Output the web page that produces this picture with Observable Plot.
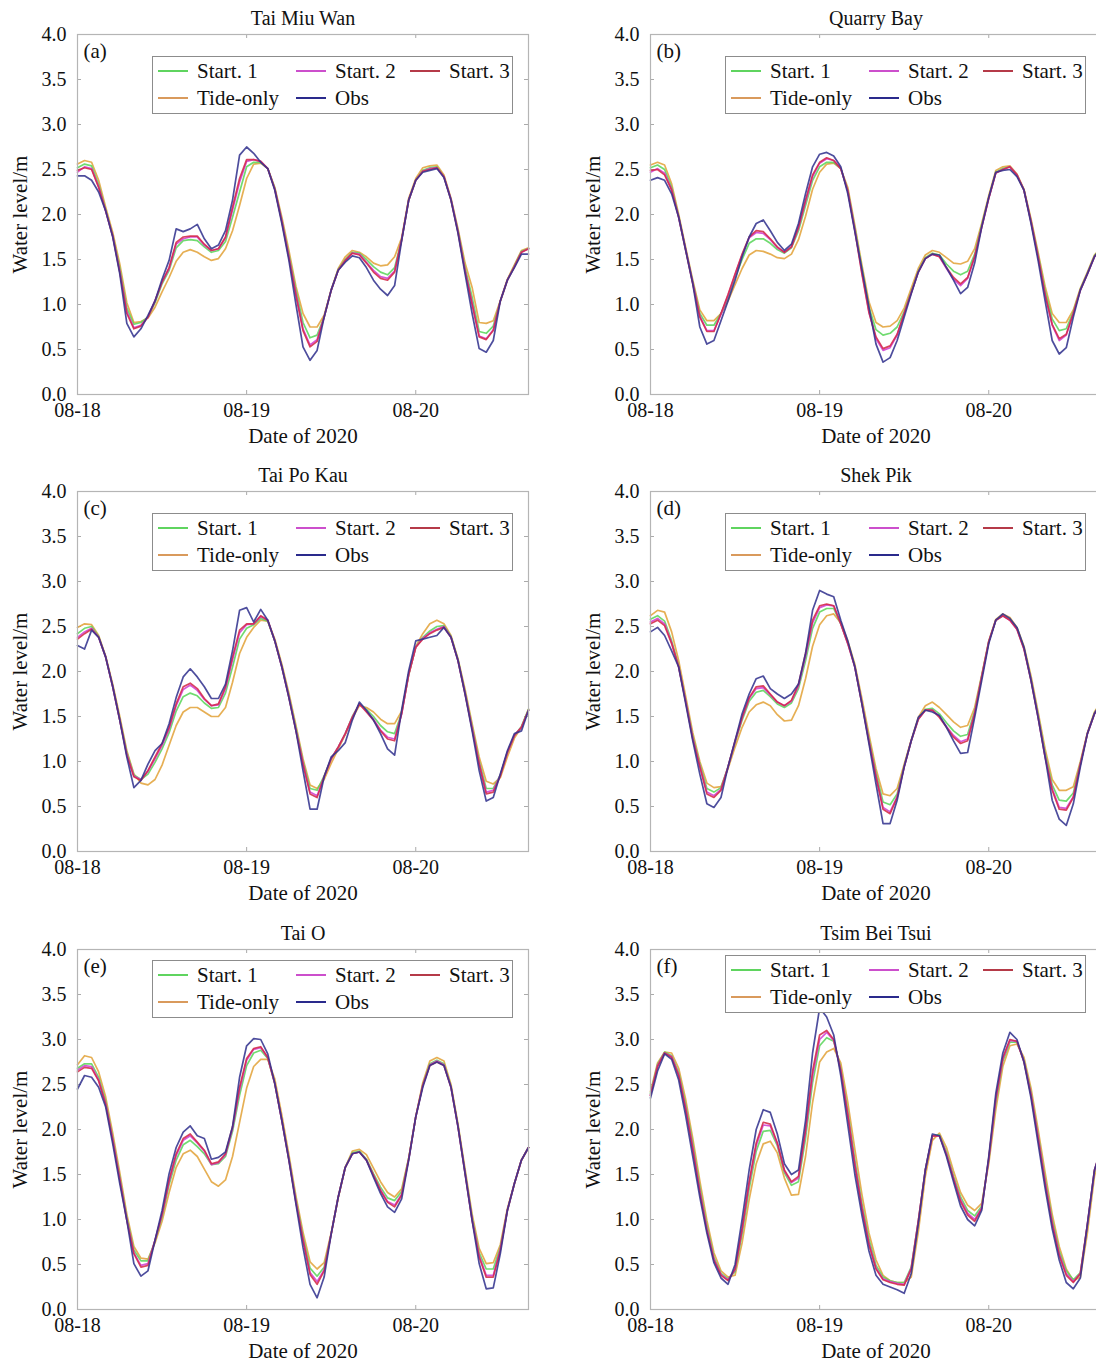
<!DOCTYPE html>
<html><head><meta charset="utf-8">
<script src="https://cdn.jsdelivr.net/npm/d3@7"></script>
<script src="https://cdn.jsdelivr.net/npm/@observablehq/plot@0.6"></script>
<style>
html,body{margin:0;padding:0;background:#fff;overflow:hidden;}
#root{position:relative;width:1096px;height:1365px;overflow:hidden;font-family:"Liberation Serif","Times New Roman",serif;background:#fff;}
.panel{position:absolute;}
.legend{position:absolute;border:1px solid #8c8c8c;background:#fff;box-sizing:border-box;width:361px;height:58px;font-size:21px;color:#111;}
.legend .item{position:absolute;height:24px;line-height:24px;display:flex;align-items:center;white-space:nowrap;}
.legend .sw{display:inline-block;width:30px;height:0;border-top:2px solid;margin-right:9px;}
</style></head>
<body><div id="root"></div>
<script>
const hours = [0,1,2,3,4,5,6,7,8,9,10,11,12,13,14,15,16,17,18,19,20,21,22,23,24,25,26,27,28,29,30,31,32,33,34,35,36,37,38,39,40,41,42,43,44,45,46,47,48,49,50,51,52,53,54,55,56,57,58,59,60,61,62,63,64];
const xTickValues = [0, 24, 48];
const xTickLabels = ["08-18", "08-19", "08-20"];
const yTickValues = [0, 0.5, 1, 1.5, 2, 2.5, 3, 3.5, 4];
const seriesNames = ["Start. 1", "Start. 2", "Start. 3", "Tide-only", "Obs"];
const lineColors = ["#5cd65c", "#d23fd2", "#d42a4a", "#e3a43c", "#34348f"];
const legendColors = ["#5fd45f", "#cc4fcc", "#b53a48", "#d99a5c", "#2a2a8c"];
const stations = ["Tai Miu Wan", "Quarry Bay", "Tai Po Kau", "Shek Pik", "Tai O", "Tsim Bei Tsui"];
const panelTags = ["(a)", "(b)", "(c)", "(d)", "(e)", "(f)"];

// (a) Tai Miu Wan
const a_start1 = [2.52,2.56,2.54,2.33,2.05,1.77,1.40,0.96,0.78,0.80,0.86,1.02,1.23,1.38,1.63,1.71,1.72,1.71,1.64,1.58,1.60,1.70,1.97,2.25,2.53,2.58,2.58,2.51,2.29,1.94,1.55,1.16,0.80,0.63,0.66,0.86,1.16,1.39,1.50,1.58,1.57,1.50,1.42,1.36,1.33,1.41,1.72,2.16,2.38,2.49,2.52,2.53,2.42,2.17,1.82,1.41,1.08,0.70,0.68,0.76,1.04,1.27,1.43,1.59,1.62];
const a_start2 = [2.47,2.53,2.51,2.31,2.04,1.76,1.37,0.92,0.74,0.77,0.86,1.04,1.25,1.40,1.67,1.73,1.75,1.75,1.66,1.60,1.62,1.74,2.05,2.36,2.59,2.61,2.59,2.51,2.28,1.93,1.53,1.12,0.73,0.55,0.61,0.86,1.16,1.38,1.49,1.57,1.56,1.47,1.38,1.31,1.29,1.37,1.72,2.16,2.38,2.48,2.51,2.52,2.42,2.17,1.81,1.38,1.02,0.65,0.62,0.72,1.04,1.27,1.42,1.58,1.62];
const a_start3 = [2.49,2.52,2.50,2.30,2.04,1.76,1.36,0.90,0.73,0.76,0.86,1.04,1.25,1.41,1.69,1.75,1.76,1.76,1.67,1.60,1.62,1.75,2.08,2.40,2.61,2.61,2.59,2.51,2.28,1.92,1.52,1.10,0.71,0.53,0.59,0.86,1.16,1.38,1.49,1.57,1.55,1.46,1.36,1.29,1.27,1.36,1.72,2.16,2.38,2.48,2.50,2.52,2.42,2.16,1.80,1.37,1.00,0.64,0.61,0.71,1.04,1.27,1.42,1.58,1.62];
const a_tide = [2.56,2.60,2.58,2.38,2.08,1.80,1.45,1.02,0.80,0.81,0.85,0.97,1.14,1.30,1.48,1.58,1.61,1.58,1.53,1.49,1.51,1.62,1.82,2.10,2.40,2.56,2.57,2.51,2.30,1.97,1.60,1.20,0.90,0.75,0.75,0.88,1.16,1.40,1.53,1.60,1.58,1.53,1.46,1.43,1.44,1.53,1.74,2.18,2.40,2.52,2.54,2.55,2.44,2.18,1.84,1.46,1.19,0.80,0.79,0.82,1.04,1.28,1.44,1.60,1.63];
const a_obs = [2.43,2.43,2.38,2.25,2.04,1.75,1.34,0.79,0.64,0.73,0.88,1.04,1.28,1.49,1.84,1.81,1.84,1.89,1.73,1.62,1.66,1.82,2.16,2.66,2.75,2.68,2.58,2.51,2.27,1.90,1.49,1.00,0.53,0.38,0.49,0.86,1.16,1.38,1.47,1.54,1.52,1.41,1.27,1.17,1.10,1.21,1.71,2.16,2.38,2.47,2.49,2.51,2.41,2.16,1.79,1.34,0.90,0.51,0.47,0.60,1.04,1.27,1.41,1.56,1.56];

// (b) Quarry Bay
const b_start1 = [2.52,2.55,2.50,2.30,1.98,1.61,1.25,0.90,0.77,0.77,0.90,1.08,1.30,1.50,1.68,1.73,1.73,1.68,1.61,1.57,1.63,1.82,2.10,2.38,2.53,2.58,2.58,2.51,2.27,1.85,1.40,0.97,0.72,0.66,0.68,0.75,0.92,1.14,1.37,1.52,1.57,1.55,1.45,1.37,1.33,1.37,1.56,1.88,2.19,2.47,2.51,2.53,2.44,2.27,1.93,1.55,1.15,0.84,0.71,0.73,0.92,1.17,1.35,1.54,1.63];
const b_start2 = [2.47,2.51,2.46,2.28,1.97,1.61,1.24,0.87,0.71,0.71,0.89,1.10,1.33,1.55,1.74,1.80,1.79,1.72,1.63,1.58,1.64,1.85,2.14,2.42,2.57,2.62,2.60,2.51,2.26,1.83,1.36,0.92,0.62,0.49,0.52,0.66,0.90,1.13,1.36,1.51,1.56,1.53,1.40,1.28,1.21,1.29,1.53,1.86,2.18,2.46,2.50,2.53,2.44,2.27,1.92,1.53,1.11,0.77,0.60,0.66,0.90,1.16,1.34,1.53,1.63];
const b_start3 = [2.49,2.50,2.44,2.27,1.97,1.60,1.23,0.86,0.70,0.70,0.90,1.11,1.34,1.56,1.75,1.82,1.81,1.73,1.64,1.58,1.64,1.86,2.16,2.44,2.58,2.63,2.60,2.51,2.26,1.82,1.34,0.91,0.64,0.51,0.54,0.67,0.90,1.13,1.36,1.51,1.56,1.53,1.41,1.30,1.23,1.30,1.53,1.86,2.18,2.46,2.50,2.53,2.44,2.27,1.92,1.53,1.11,0.78,0.62,0.67,0.90,1.16,1.34,1.53,1.63];
const b_tide = [2.55,2.58,2.55,2.34,2.00,1.63,1.27,0.94,0.82,0.82,0.90,1.04,1.22,1.40,1.55,1.60,1.59,1.56,1.52,1.51,1.56,1.72,1.98,2.28,2.47,2.56,2.57,2.51,2.30,1.88,1.44,1.03,0.80,0.75,0.76,0.82,0.96,1.18,1.40,1.55,1.60,1.58,1.52,1.46,1.45,1.48,1.62,1.90,2.21,2.49,2.53,2.54,2.45,2.28,1.95,1.58,1.20,0.90,0.80,0.80,0.94,1.18,1.36,1.55,1.64];
const b_obs = [2.38,2.41,2.38,2.23,1.97,1.60,1.23,0.75,0.56,0.60,0.82,1.04,1.27,1.53,1.75,1.90,1.94,1.82,1.69,1.60,1.67,1.90,2.23,2.53,2.67,2.69,2.65,2.53,2.23,1.81,1.39,0.97,0.56,0.36,0.41,0.60,0.86,1.12,1.36,1.51,1.56,1.55,1.41,1.27,1.12,1.19,1.46,1.86,2.19,2.47,2.49,2.50,2.42,2.27,1.90,1.49,1.04,0.60,0.45,0.52,0.86,1.16,1.34,1.53,1.64];

// (c) Tai Po Kau
const c_start1 = [2.42,2.48,2.50,2.39,2.16,1.84,1.47,1.10,0.85,0.80,0.86,0.99,1.14,1.32,1.56,1.72,1.76,1.73,1.65,1.59,1.60,1.76,2.05,2.36,2.48,2.52,2.59,2.56,2.34,2.06,1.73,1.37,1.00,0.70,0.68,0.84,1.03,1.16,1.31,1.50,1.64,1.58,1.50,1.40,1.33,1.31,1.54,1.97,2.27,2.38,2.45,2.50,2.51,2.39,2.13,1.77,1.39,1.00,0.70,0.70,0.85,1.10,1.29,1.39,1.58];
const c_start2 = [2.38,2.44,2.48,2.38,2.16,1.83,1.46,1.08,0.84,0.80,0.89,1.03,1.18,1.36,1.62,1.80,1.85,1.79,1.69,1.62,1.63,1.81,2.13,2.43,2.52,2.53,2.61,2.57,2.34,2.05,1.72,1.35,0.98,0.66,0.62,0.83,1.03,1.16,1.31,1.49,1.64,1.56,1.47,1.35,1.27,1.25,1.53,1.97,2.27,2.37,2.43,2.47,2.50,2.38,2.12,1.76,1.37,0.98,0.66,0.68,0.85,1.10,1.29,1.38,1.57];
const c_start3 = [2.36,2.42,2.47,2.38,2.16,1.83,1.46,1.07,0.83,0.79,0.90,1.05,1.20,1.38,1.64,1.83,1.87,1.81,1.70,1.62,1.64,1.83,2.16,2.46,2.53,2.53,2.62,2.57,2.34,2.05,1.71,1.34,0.97,0.64,0.60,0.83,1.03,1.16,1.31,1.49,1.64,1.55,1.46,1.34,1.25,1.23,1.53,1.97,2.27,2.36,2.42,2.46,2.49,2.38,2.12,1.75,1.36,0.97,0.64,0.66,0.84,1.10,1.29,1.38,1.57];
const c_tide = [2.49,2.53,2.52,2.40,2.17,1.86,1.50,1.12,0.86,0.76,0.74,0.80,0.96,1.18,1.40,1.55,1.60,1.60,1.55,1.50,1.50,1.60,1.88,2.20,2.38,2.49,2.57,2.56,2.36,2.08,1.76,1.40,1.03,0.74,0.70,0.80,0.98,1.14,1.30,1.48,1.62,1.60,1.55,1.47,1.42,1.42,1.56,1.96,2.28,2.42,2.53,2.57,2.53,2.40,2.14,1.80,1.42,1.05,0.78,0.75,0.82,1.05,1.26,1.38,1.58];
const c_obs = [2.29,2.25,2.46,2.38,2.16,1.83,1.46,1.05,0.71,0.79,0.97,1.12,1.20,1.42,1.71,1.94,2.03,1.94,1.83,1.70,1.70,1.86,2.23,2.68,2.71,2.55,2.69,2.57,2.34,2.05,1.71,1.34,0.90,0.47,0.47,0.83,1.05,1.12,1.21,1.46,1.66,1.57,1.46,1.31,1.14,1.07,1.57,2.01,2.34,2.36,2.38,2.40,2.49,2.38,2.12,1.75,1.34,0.90,0.56,0.60,0.86,1.12,1.31,1.34,1.57];

// (d) Shek Pik
const d_start1 = [2.58,2.62,2.56,2.34,2.06,1.68,1.28,0.97,0.70,0.66,0.71,0.94,1.21,1.46,1.67,1.77,1.79,1.72,1.64,1.60,1.65,1.81,2.12,2.48,2.66,2.70,2.70,2.53,2.32,2.06,1.66,1.25,0.87,0.55,0.52,0.64,0.95,1.23,1.47,1.58,1.59,1.53,1.43,1.34,1.28,1.30,1.56,1.95,2.33,2.57,2.62,2.58,2.48,2.26,1.92,1.52,1.09,0.74,0.57,0.56,0.65,0.98,1.31,1.54,1.66];
const d_start2 = [2.55,2.59,2.53,2.32,2.05,1.67,1.26,0.95,0.66,0.62,0.69,0.94,1.22,1.48,1.70,1.81,1.82,1.74,1.66,1.62,1.67,1.84,2.17,2.54,2.71,2.74,2.73,2.53,2.31,2.05,1.65,1.23,0.84,0.49,0.44,0.61,0.94,1.23,1.47,1.57,1.57,1.50,1.39,1.29,1.22,1.25,1.54,1.94,2.33,2.57,2.62,2.57,2.47,2.25,1.91,1.50,1.06,0.70,0.49,0.48,0.61,0.97,1.31,1.53,1.66];
const d_start3 = [2.53,2.57,2.51,2.31,2.05,1.66,1.25,0.94,0.64,0.60,0.68,0.94,1.23,1.49,1.71,1.83,1.84,1.75,1.66,1.62,1.68,1.86,2.20,2.57,2.73,2.75,2.73,2.53,2.31,2.05,1.64,1.22,0.83,0.47,0.42,0.60,0.94,1.23,1.47,1.57,1.57,1.49,1.38,1.27,1.20,1.23,1.53,1.94,2.33,2.57,2.62,2.57,2.47,2.25,1.90,1.49,1.05,0.68,0.47,0.46,0.60,0.97,1.31,1.53,1.66];
const d_tide = [2.62,2.68,2.66,2.44,2.12,1.72,1.32,1.00,0.76,0.71,0.72,0.92,1.16,1.38,1.55,1.63,1.66,1.62,1.52,1.45,1.46,1.62,1.92,2.28,2.52,2.62,2.64,2.54,2.34,2.08,1.70,1.30,0.92,0.64,0.62,0.70,0.97,1.24,1.49,1.62,1.66,1.60,1.52,1.44,1.38,1.40,1.60,1.96,2.34,2.58,2.64,2.60,2.49,2.28,1.95,1.55,1.14,0.80,0.68,0.68,0.72,1.00,1.32,1.55,1.67];
const d_obs = [2.44,2.49,2.40,2.23,2.05,1.64,1.23,0.86,0.53,0.49,0.60,0.94,1.23,1.53,1.75,1.92,1.95,1.81,1.75,1.70,1.75,1.86,2.20,2.68,2.90,2.86,2.83,2.57,2.34,2.05,1.64,1.20,0.75,0.31,0.31,0.57,0.94,1.23,1.49,1.57,1.55,1.51,1.38,1.23,1.09,1.10,1.49,1.90,2.31,2.57,2.64,2.59,2.49,2.27,1.90,1.49,1.05,0.57,0.36,0.29,0.53,0.94,1.31,1.53,1.66];

// (e) Tai O
const e_start1 = [2.68,2.73,2.73,2.58,2.31,1.91,1.47,1.02,0.66,0.54,0.54,0.76,1.03,1.39,1.66,1.83,1.88,1.81,1.73,1.61,1.62,1.70,1.98,2.38,2.71,2.85,2.88,2.79,2.51,2.11,1.68,1.22,0.81,0.46,0.37,0.47,0.84,1.25,1.58,1.74,1.76,1.67,1.51,1.36,1.24,1.21,1.31,1.68,2.14,2.50,2.73,2.77,2.73,2.48,2.04,1.53,1.02,0.63,0.45,0.45,0.69,1.10,1.40,1.66,1.80];
const e_start2 = [2.66,2.71,2.70,2.55,2.29,1.89,1.45,1.00,0.63,0.49,0.51,0.77,1.05,1.42,1.71,1.88,1.93,1.85,1.76,1.61,1.63,1.72,2.01,2.44,2.77,2.89,2.91,2.80,2.51,2.10,1.67,1.20,0.78,0.41,0.31,0.44,0.84,1.25,1.58,1.73,1.75,1.66,1.49,1.33,1.20,1.16,1.28,1.67,2.14,2.49,2.72,2.76,2.72,2.47,2.03,1.52,1.00,0.60,0.38,0.38,0.67,1.10,1.40,1.66,1.80];
const e_start3 = [2.64,2.69,2.68,2.54,2.28,1.88,1.44,0.99,0.62,0.47,0.49,0.77,1.06,1.44,1.73,1.90,1.95,1.86,1.77,1.62,1.64,1.73,2.03,2.47,2.79,2.90,2.92,2.80,2.51,2.10,1.66,1.19,0.77,0.39,0.28,0.43,0.84,1.25,1.58,1.73,1.75,1.66,1.49,1.32,1.19,1.14,1.27,1.67,2.14,2.49,2.71,2.75,2.71,2.47,2.03,1.51,0.99,0.58,0.36,0.36,0.66,1.10,1.40,1.66,1.80];
const e_tide = [2.72,2.82,2.80,2.64,2.36,1.96,1.52,1.06,0.70,0.57,0.56,0.74,0.98,1.30,1.58,1.73,1.77,1.70,1.56,1.42,1.37,1.44,1.70,2.08,2.46,2.70,2.78,2.78,2.56,2.16,1.72,1.26,0.86,0.53,0.45,0.52,0.85,1.24,1.58,1.76,1.78,1.72,1.57,1.42,1.30,1.25,1.34,1.68,2.14,2.52,2.76,2.80,2.76,2.50,2.06,1.56,1.06,0.68,0.51,0.52,0.72,1.12,1.40,1.66,1.80];
const e_obs = [2.45,2.60,2.58,2.47,2.25,1.84,1.40,0.99,0.51,0.37,0.43,0.77,1.10,1.51,1.80,1.97,2.04,1.93,1.90,1.67,1.69,1.75,2.03,2.58,2.93,3.01,3.00,2.84,2.51,2.10,1.66,1.17,0.69,0.28,0.13,0.36,0.84,1.25,1.58,1.73,1.75,1.66,1.47,1.29,1.14,1.08,1.23,1.66,2.14,2.47,2.71,2.75,2.71,2.47,2.03,1.51,0.99,0.51,0.23,0.24,0.62,1.10,1.40,1.66,1.80];

// (f) Tsim Bei Tsui
const f_start1 = [2.40,2.72,2.86,2.82,2.63,2.27,1.84,1.36,0.93,0.58,0.40,0.34,0.42,0.84,1.34,1.76,1.98,1.99,1.82,1.52,1.38,1.42,1.90,2.52,2.93,3.02,2.98,2.68,2.20,1.66,1.18,0.78,0.49,0.36,0.32,0.30,0.30,0.47,0.98,1.55,1.93,1.94,1.75,1.48,1.25,1.10,1.04,1.15,1.66,2.30,2.76,2.97,2.97,2.77,2.41,1.94,1.45,1.00,0.65,0.43,0.33,0.41,0.93,1.53,1.80];
const f_start2 = [2.38,2.71,2.85,2.81,2.61,2.24,1.80,1.32,0.90,0.56,0.39,0.33,0.44,0.88,1.40,1.82,2.05,2.04,1.84,1.54,1.41,1.46,1.97,2.60,3.00,3.08,2.99,2.66,2.17,1.62,1.14,0.74,0.46,0.34,0.31,0.29,0.28,0.46,0.98,1.55,1.93,1.93,1.73,1.46,1.22,1.07,1.00,1.13,1.67,2.33,2.78,2.99,2.98,2.76,2.39,1.92,1.42,0.97,0.62,0.40,0.31,0.40,0.94,1.54,1.80];
const f_start3 = [2.38,2.70,2.85,2.80,2.60,2.22,1.78,1.30,0.88,0.55,0.38,0.32,0.45,0.90,1.42,1.85,2.08,2.06,1.85,1.55,1.42,1.48,2.00,2.65,3.05,3.10,3.00,2.65,2.15,1.60,1.12,0.72,0.45,0.33,0.30,0.28,0.27,0.45,0.98,1.55,1.93,1.93,1.72,1.45,1.20,1.05,0.98,1.12,1.68,2.35,2.80,3.00,2.98,2.75,2.38,1.90,1.40,0.95,0.60,0.38,0.30,0.40,0.95,1.55,1.80];
const f_tide = [2.42,2.74,2.86,2.85,2.68,2.33,1.90,1.43,0.99,0.63,0.43,0.36,0.38,0.74,1.22,1.62,1.84,1.87,1.74,1.46,1.27,1.28,1.70,2.30,2.75,2.86,2.90,2.74,2.30,1.78,1.28,0.85,0.55,0.38,0.32,0.30,0.30,0.36,0.86,1.48,1.88,1.96,1.80,1.54,1.30,1.16,1.10,1.18,1.62,2.22,2.70,2.93,2.95,2.80,2.46,2.00,1.52,1.06,0.70,0.45,0.32,0.36,0.85,1.48,1.78];
const f_obs = [2.35,2.65,2.84,2.78,2.55,2.15,1.70,1.25,0.85,0.52,0.35,0.28,0.50,1.00,1.55,2.00,2.22,2.19,1.95,1.62,1.50,1.55,2.10,2.85,3.35,3.25,3.05,2.60,2.05,1.50,1.05,0.65,0.38,0.28,0.25,0.22,0.18,0.40,0.95,1.55,1.95,1.93,1.70,1.42,1.15,1.00,0.93,1.10,1.70,2.40,2.85,3.08,3.00,2.75,2.35,1.85,1.35,0.90,0.55,0.30,0.23,0.35,0.95,1.55,1.80];

const panelSeries = [
  [a_start1, a_start2, a_start3, a_tide, a_obs],
  [b_start1, b_start2, b_start3, b_tide, b_obs],
  [c_start1, c_start2, c_start3, c_tide, c_obs],
  [d_start1, d_start2, d_start3, d_tide, d_obs],
  [e_start1, e_start2, e_start3, e_tide, e_obs],
  [f_start1, f_start2, f_start3, f_tide, f_obs]
];

// layout
const W = 548, H = 455, ML = 77, MR = 20, MT = 34, MB = 61;
const panelLeft = [0, 573];
const panelTop = [0, 457, 915];
const legendTopOffset = [22, 22, 22, 22, 11, 6];
const drawOrder = [3, 0, 1, 2, 4];
const root = document.getElementById("root");
const fmtY = d3.format(".1f");
const fontFam = "Liberation Serif, Times New Roman, serif";

panelSeries.forEach((series, p) => {
  const col = p % 2, row = Math.floor(p / 2);
  const lines = drawOrder.map(k => Plot.line(series[k], {
    x: (d, i) => hours[i], y: d => d,
    stroke: lineColors[k], strokeWidth: 1.7, strokeOpacity: 0.88
  }));
  const chart = Plot.plot({
    width: W, height: H,
    marginLeft: ML, marginRight: MR, marginTop: MT, marginBottom: MB,
    x: {domain: [0, 64]},
    y: {domain: [0, 4]},
    style: {fontFamily: fontFam, fontSize: "20px", background: "transparent", color: "#111"},
    marks: [
      Plot.axisY(yTickValues, {tickSize: 0, tickPadding: 11, tickFormat: d => fmtY(d), label: null}),
      Plot.axisX(xTickValues, {tickSize: 0, tickPadding: 8, tickFormat: d => xTickLabels[xTickValues.indexOf(d)], label: null}),
      Plot.tickY(yTickValues, {y: d => d, stroke: "#aaa", insetRight: W - ML - MR - 4}),
      Plot.tickY(yTickValues, {y: d => d, stroke: "#aaa", insetLeft: W - ML - MR - 4}),
      Plot.tickX(xTickValues, {x: d => d, stroke: "#aaa", insetTop: H - MT - MB - 4}),
      Plot.tickX(xTickValues, {x: d => d, stroke: "#aaa", insetBottom: H - MT - MB - 4}),
      ...lines,
      Plot.frame({stroke: "#b5b5b5", strokeWidth: 1.2}),
      Plot.text([panelTags[p]], {text: d => d, frameAnchor: "top-left", dx: 6, dy: 17, textAnchor: "start", lineAnchor: "middle", fontSize: 21}),
      Plot.text([stations[p]], {text: d => d, frameAnchor: "top", dy: -16, textAnchor: "middle", lineAnchor: "middle", fontSize: 20}),
      Plot.text(["Date of 2020"], {text: d => d, frameAnchor: "bottom", dy: 42, textAnchor: "middle", lineAnchor: "middle", fontSize: 21}),
      Plot.text(["Water level/m"], {text: d => d, frameAnchor: "left", dx: -57, rotate: -90, textAnchor: "middle", lineAnchor: "middle", fontSize: 21})
    ]
  });
  const wrap = document.createElement("div");
  wrap.className = "panel";
  wrap.style.left = panelLeft[col] + "px";
  wrap.style.top = panelTop[row] + "px";
  wrap.style.width = W + "px";
  chart.style.maxWidth = "none";
  wrap.appendChild(chart);
  root.appendChild(wrap);

  // legend
  const lg = document.createElement("div");
  lg.className = "legend";
  lg.style.left = (panelLeft[col] + ML + 75) + "px";
  lg.style.top = (panelTop[row] + MT + legendTopOffset[p]) + "px";
  const slots = [[5, 15], [143, 15], [257, 15], [5, 42], [143, 42]];
  seriesNames.forEach((name, k) => {
    const it = document.createElement("div");
    it.className = "item";
    it.style.left = slots[k][0] + "px";
    it.style.top = (slots[k][1] - 13) + "px";
    const sw = document.createElement("span");
    sw.className = "sw";
    sw.style.borderTopColor = legendColors[k];
    it.appendChild(sw);
    it.appendChild(document.createTextNode(name));
    lg.appendChild(it);
  });
  root.appendChild(lg);
});
</script>
</body></html>
